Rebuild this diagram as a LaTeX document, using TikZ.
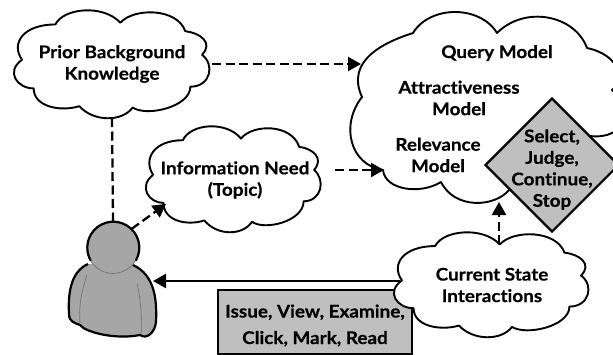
\documentclass[tikz,border=0pt]{standalone}
\usepackage{fontspec}
\setmainfont{Lato}[BoldFont={Lato Bold},BoldFeatures={FakeStretch=1.08,FakeBold=0.4},Ligatures=NoCommon]
\usetikzlibrary{shapes.geometric,arrows.meta}
\definecolor{boxgray}{HTML}{BFBFBF}
\definecolor{persongray}{HTML}{A6A6A6}
\tikzset{
  lbl/.style={font=\fontsize{17.5}{21.5}\selectfont\bfseries, align=center, inner sep=0pt},
  cloudline/.style={draw=black, fill=white, line width=1.9pt, line join=round},
  conn/.style={draw=black, line width=2.3pt, -{Triangle[length=13pt,width=14pt]}},
  dashconn/.style={conn, dash pattern=on 9pt off 4.5pt},
}
\newcommand{\cloudshape}[4]{%
  \begin{scope}[shift={(#1,#2)},xscale={(#3-#1)/597},yscale={(#4-#2)/321},shift={(-38,-32)}]
    \path[cloudline] (165,75) .. controls (190,25) and (310,15) .. (360,70)
      .. controls (400,25) and (530,25) .. (555,95)
      .. controls (600,100) and (640,130) .. (605,165)
      .. controls (645,195) and (630,260) .. (570,260)
      .. controls (570,320) and (440,350) .. (397,322)
      .. controls (365,365) and (280,365) .. (237,318)
      .. controls (180,335) and (100,320) .. (100,265)
      .. controls (50,265) and (15,215) .. (65,180)
      .. controls (30,130) and (70,75) .. (165,75) -- cycle;
  \end{scope}}
\begin{document}
\begin{tikzpicture}[x=1pt,y=-1pt]
\path[use as bounding box] (0,0) rectangle (613,354);
\clip (0,0) rectangle (613,354);
% action box (under the Current State cloud)
\node[draw=black, fill=boxgray, line width=2.2pt, minimum width=194pt, minimum height=64pt, inner sep=0pt] (actions) at (315,322) {};
% solid connector runs above the box
\coordinate (stateL) at (400,281);
\coordinate (personR) at (153,281);
\draw[conn] (stateL) -- (personR);
% clouds
\cloudshape{13}{10}{212}{118}
\cloudshape{145}{126}{323}{232}
\cloudshape{393}{232}{591}{337}
% big cloud
\path[cloudline] (362,97) .. controls (345,60) and (385,42) .. (413,33)
  .. controls (430,5) and (480,5) .. (497,33)
  .. controls (525,5) and (575,15) .. (587,48)
  .. controls (620,55) and (625,80) .. (612,90)
  .. controls (635,110) and (625,140) .. (590,136)
  .. controls (590,170) and (530,195) .. (509,190)
  .. controls (495,207) and (455,210) .. (441,182)
  .. controls (420,195) and (385,190) .. (383,170)
  .. controls (350,165) and (340,125) .. (362,97) -- cycle;
% diamond
\node[diamond, draw=black, fill=boxgray, line width=2.2pt, minimum width=134pt, minimum height=134pt, inner sep=0pt] (decide) at (552,165) {};
% person
\coordinate (headC) at (113,247.5);
\path[fill=persongray] (88,264) .. controls (70,272) and (68,295) .. (69,314)
  .. controls (69,322) and (75,323) .. (80,325)
  .. controls (85,332) and (115,340) .. (140,335)
  .. controls (147,340) and (155,332) .. (156,322)
  .. controls (157,300) and (155,275) .. (133,265) -- cycle;
\draw[line width=0.7pt, draw=black!55] (87,275) .. controls (80,295) and (79,310) .. (80,323);
\draw[line width=0.7pt, draw=black!55] (137,283) .. controls (141,300) and (142,320) .. (141,334);
\draw[line width=2.2pt, line join=round] (88,264) .. controls (70,272) and (68,295) .. (69,314)
  .. controls (69,322) and (75,323) .. (80,325)
  .. controls (85,332) and (115,340) .. (140,335)
  .. controls (147,340) and (155,332) .. (156,322)
  .. controls (157,300) and (155,275) .. (133,265);
\node[circle, fill=persongray, draw=black!55, line width=0.7pt, minimum size=52pt, inner sep=0pt] (head) at (headC) {};
\draw[line width=2.2pt] (head.-30) arc[start angle=-30, end angle=210, radius=26pt];
% connectors
\coordinate (priorR) at (212,64);
\coordinate (bigL) at (361,64);
\draw[dashconn] (priorR) -- (bigL);
\coordinate (priorB) at (112,118);
\draw[dashconn, -] (priorB) -- (head.north);
\coordinate (infoBL) at (166,204);
\draw[dashconn] (head.45) -- (infoBL);
\coordinate (infoR) at (335,170);
\coordinate (bigLL) at (384,170);
\draw[dashconn] (infoR) -- (bigLL);
\coordinate (stateT) at (499,244);
\coordinate (bigB) at (499,202);
\draw[dashconn] (stateT) -- (bigB);
% texts
\node[lbl] (prior) at (112,64) {Prior Background\\Knowledge};
\node[lbl] (info) at (235,180) {Information Need\\(Topic)};
\node[lbl] (query) at (497,53) {Query Model};
\node[lbl] (attr) at (459,98) {Attractiveness\\Model};
\node[lbl] (rel) at (438,155) {Relevance\\Model};
\node[lbl] (state) at (492,285) {Current State\\Interactions};
\node[lbl] at (552,169.5) {Select,\\Judge,\\Continue,\\Stop};
\node[lbl] at (315,325.5) {Issue, View, Examine,\\[5pt]Click, Mark, Read};
\end{tikzpicture}
\end{document}
